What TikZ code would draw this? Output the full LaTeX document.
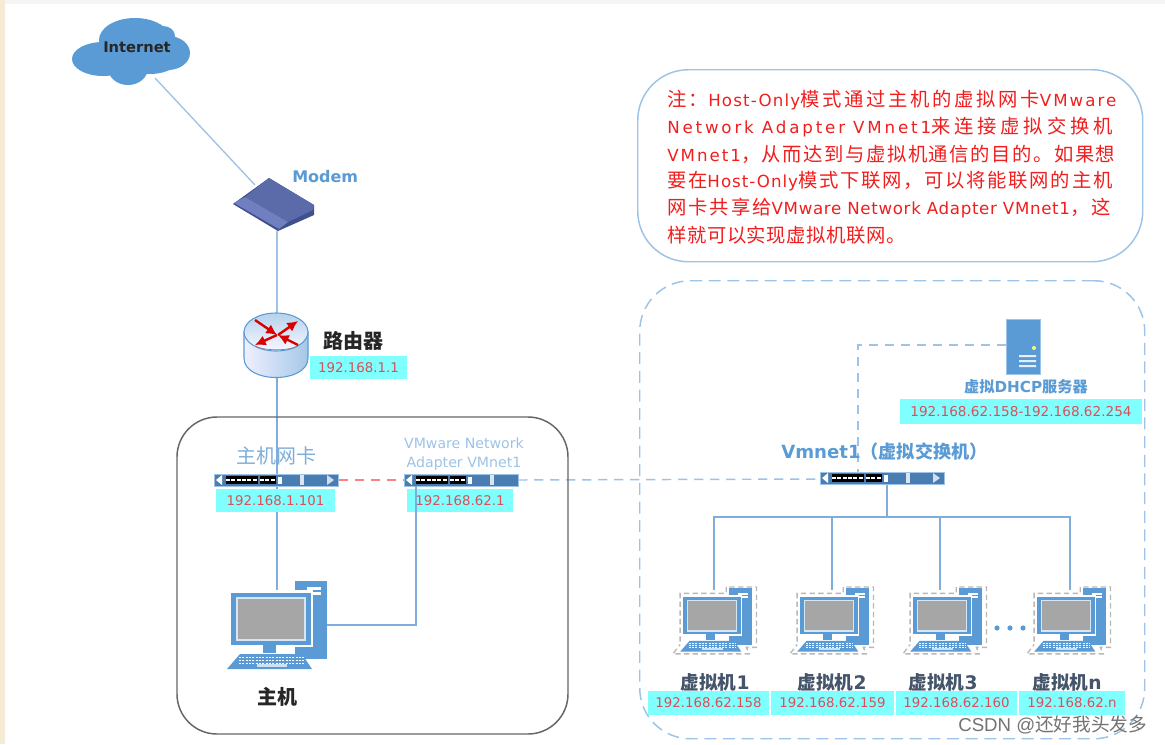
\documentclass[tikz,border=0pt]{standalone}
\usepackage{fontspec}
\setmainfont{DejaVu Sans}
\newfontfamily\cjk{Noto Sans CJK SC}
\usetikzlibrary{backgrounds,arrows.meta}
\newcommand{\zh}[1]{{\cjk #1}}
\newcommand{\fsz}[1]{\fontsize{#1}{#1}\selectfont}
\newcommand{\zs}[2]{{\fsz{14.5}\cjk\addfontfeature{LetterSpace=#1}#2}}
\newcommand{\ltr}[2]{{\addfontfeature{LetterSpace=#1}#2}}
\definecolor{wire}{HTML}{9DC3E6}
\definecolor{wired}{HTML}{7FAEDC}
\definecolor{dev}{HTML}{5B9BD5}
\definecolor{barc}{HTML}{4A7EB2}
\definecolor{cy}{HTML}{80FFFF}
\definecolor{ipred}{HTML}{D9505A}
\definecolor{notered}{HTML}{F01E1E}
\definecolor{vmtxt}{HTML}{44546A}
\definecolor{mtop}{HTML}{5B6AA8}
\definecolor{mfront}{HTML}{6F7FBF}
\definecolor{mdark}{HTML}{414F8C}
\definecolor{strip}{HTML}{F5EBD5}
\tikzset{
  link/.style={draw=wired,line width=1pt},
  lightlink/.style={draw=wire,line width=1pt},
  dlink/.style={draw=wire,line width=1.1pt,dash pattern=on 7pt off 5pt},
  ip/.style={fill=cy,text=ipred,inner sep=0pt,font=\fsz{10}},
  bar/.style={fill=barc,draw=wire,line width=.4pt,inner sep=0pt,minimum height=9pt},
  pcname/.style={text=vmtxt,font=\fsz{14}\bfseries,inner sep=0pt},
  blue/.style={text=dev,inner sep=0pt},
  noteline/.style={anchor=west,text=notered,inner sep=0pt,font=\fsz{12.5}},
  pc/.pic={
    \fill[dev] (64,-12) rectangle (96,66);
    \fill[white] (76,-6) rectangle (90,-3);
    \fill[white] (76,-1) rectangle (90,2);
    \fill[white] (-2,-3) rectangle (82,54);
    \fill[dev] (0,0) rectangle (80,52);
    \fill[white!75!dev] (5,4) rectangle (75,48);
    \fill[black!35] (7,6) rectangle (73,46);
    \fill[dev] (32,52) rectangle (45,60);
    \fill[dev] (-4,76) -- (81,76) -- (71,61) -- (9,61) -- cycle;
    \foreach \r in {64,67,70}{\draw[white,line width=.5pt,dash pattern=on 1.5pt off 1pt] (8,\r) -- (73,\r);}
    \fill[white!70!dev] (26,71) rectangle (56,74);
  },
  dashbox/.pic={
    \draw[black!28,line width=1pt,dash pattern=on 4pt off 2.5pt]
      (-4,62) -- (-4,-5) -- (60,-5) -- (60,-14) -- (102,-14) -- (102,70) -- (88,70) -- (92,79) -- (-14,79) -- (-4,66);
  },
  barpic/.pic={
    \fill[white] (2,6) -- (8,1) -- (8,11) -- cycle;
    \fill[black] (12,2) rectangle (44,10);
    \fill[black] (46,2) rectangle (62,10);
    \draw[white,line width=.9pt,dash pattern=on 3pt off 1pt] (12,6) -- (44,6);
    \draw[white,line width=.9pt,dash pattern=on 3pt off 1pt] (46,6) -- (62,6);
    \fill[white] (64,3) rectangle (68,10);
    \fill[white!80!barc] (86,1) rectangle (90,11);
  },
  endtri/.pic={\fill[white!75!barc] (0,1) -- (0,11) -- (7,6) -- cycle;},
}
\begin{document}
\begin{tikzpicture}[x=.75pt,y=-.75pt]
\useasboundingbox (0,0) rectangle (1165,744);
\begin{pgfonlayer}{background}
\fill[white] (0,0) rectangle (1165,744);
\fill[black!4] (0,0) rectangle (1165,4);
\fill[strip] (0,0) rectangle (5,744);
\end{pgfonlayer}

% enclosures
\draw[black!60,line width=1.1pt,rounded corners=30pt] (177,417) rectangle (568,734);
\node[draw=wire,line width=1.1pt,rounded corners=38pt,minimum width=378.75pt,minimum height=144pt,anchor=north west,inner sep=0pt] (note) at (637,69) {};
\node[draw=wire,line width=1.1pt,rounded corners=38pt,dash pattern=on 9pt off 5pt,minimum width=378.75pt,minimum height=343.5pt,anchor=north west,inner sep=0pt] (vmarea) at (639,280) {};

% note text
\node[noteline] (n1) at (667,100) {\zs{12}{注：}\ltr{7}{Host-Only}\zs{14}{模式通过主机的虚拟网卡}\ltr{12}{VMware}};
\node[noteline] (n2) at (667,127) {\ltr{17}{Network Adapter VMnet1}\zs{20}{来连接虚拟交换机}};
\node[noteline] (n3) at (667,154) {\ltr{12}{VMnet1}\zs{8}{，从而达到与虚拟机通信的目的。如果想}};
\node[noteline] (n4) at (667,181) {\zs{8}{要在}\ltr{6}{Host-Only}\zs{9}{模式下联网，可以将能联网的主机}};
\node[noteline] (n5) at (667,208) {\zs{10}{网卡共享给}\ltr{4}{VMware Network Adapter VMnet1}\zs{10}{，这}};
\node[noteline] (n6) at (667,235) {\zs{3}{样就可以实现虚拟机联网。}};

% cloud
\fill[dev] (103,59) ellipse (31 and 17) (135,40) ellipse (36 and 22) (163,36) ellipse (12 and 10)
  (168,53) ellipse (22 and 17) (128,68) ellipse (20 and 17) (150,52) ellipse (34 and 22);
\node[inner sep=0pt,font=\fsz{11}\bfseries,text=black!85] (net) at (137,47) {Internet};
\coordinate (cloudfoot) at (155,78);

% modem
\fill[mdark] (233,204) -- (278,231) -- (314,215) -- (314,205) -- (269,178) -- cycle;
\fill[mtop] (269,178) -- (314,205) -- (313,210) -- (288,222) -- (245,197) -- cycle;
\fill[mfront] (245,197) -- (288,222) -- (279,229) -- (234,203) -- cycle;
\coordinate (modemtop) at (255,185);
\coordinate (modembot) at (277,231);
\node[blue,font=\fsz{12}\bfseries,anchor=west] (modemlbl) at (292,177) {Modem};

% router
\coordinate (routertop) at (277,313);
\coordinate (routerbot) at (277,377);
\shade[left color=blue!6!white,right color=dev!55!white,draw=dev,line width=.8pt]
  (244,332) -- (244,358) .. controls (244,384) and (308,384) .. (308,358) -- (308,332) -- cycle;
\shade[top color=dev!45!white,bottom color=blue!3!white,draw=dev,line width=.8pt] (276,332) ellipse (32 and 19);
\draw[black!50,line width=.5pt] (255,346) .. controls (265,351) and (288,351) .. (298,346);
\begin{scope}[red!85!black,line width=1.8pt,-{Latex[length=8pt,width=8pt]}]
\draw (255,320) -- (277,335);
\draw (278,335) -- (298,321);
\draw (277,335) -- (255,345);
\draw (298,345) -- (278,335);
\end{scope}
\node[inner sep=0pt,font=\fsz{15}\cjk\bfseries,text=black!85] (rlbl) at (353,341) {路由器};
\node[ip,minimum width=72.75pt,minimum height=17.25pt] (rip) at (358.5,367.5) {192.168.1.1};

% NICs
\node[bar,minimum width=93pt,anchor=north west] (nic) at (214,474) {};
\pic at (214,474) {barpic};
\pic at (327,474) {endtri};
\node[bar,minimum width=85.5pt,anchor=north west] (vnic) at (404,474) {};
\pic at (404,474) {barpic};
\node[text=wired,inner sep=0pt,font=\fsz{15}\cjk] (niclbl) at (276,456) {主机网卡};
\node[text=wire,inner sep=0pt,font=\fsz{10.6}] (vl1) at (464,443) {VMware Network};
\node[text=wire,inner sep=0pt,font=\fsz{10.6}] (vl2) at (464,464) {Adapter VMnet1};
\node[ip,minimum width=89.25pt,minimum height=17.25pt] (nicip) at (275.5,500.5) {192.168.1.101};
\node[ip,minimum width=79.5pt,minimum height=17.25pt] (vnicip) at (460,500.5) {192.168.62.1};

% host
\pic at (231,593) {pc};
\coordinate (hostr) at (327,625);
\coordinate (hostt) at (277,593);
\coordinate (nicin) at (277,480);
\coordinate (nicout) at (277,486);
\coordinate (vbend) at (416,625);
\coordinate (vup) at (416,486);
\node[inner sep=0pt,font=\fsz{15}\cjk\bfseries,text=black!85] (hostlbl) at (277,697) {主机};

% server
\node[fill=dev,draw=wire,line width=.4pt,inner sep=0pt,minimum width=25.5pt,minimum height=41.25pt,anchor=north west] (srv) at (1006,319) {};
\fill[yellow!50!white] (1034,348) circle (2);
\fill[white!85!dev] (1019,355) rectangle (1036,357) (1019,360) rectangle (1036,362) (1019,365) rectangle (1036,367);
\node[inner sep=0pt,text=dev,font=\fsz{11.4}\bfseries] (srvlbl) at (1026,387) {\zh{虚拟}DHCP\zh{服务器}};
\node[ip,minimum width=181.5pt,minimum height=18.75pt] (srvip) at (1021,411.5) {\fsz{10.2}192.168.62.158-192.168.62.254};

% switch
\node[bar,minimum width=93pt,anchor=north west] (sw) at (820,472) {};
\pic at (820,472) {barpic};
\pic at (933,472) {endtri};
\node[anchor=west,inner sep=0pt,text=dev,font=\fsz{13.6}\bfseries] (swlbl) at (781,452) {Vmnet1\zh{（虚拟交换机）}};
\coordinate (swb) at (887,485);
\coordinate (bus) at (887,517);
\coordinate (bl) at (714,517);
\coordinate (br) at (1070,517);
\coordinate (b2) at (832,517);
\coordinate (b3) at (940,517);
\coordinate (srvw) at (1006,345);
\coordinate (srvc) at (858,345);
\coordinate (swt) at (858,472);
\coordinate (swl) at (820,479);
\coordinate (vnicr) at (518,480);

% VMs
\foreach \x in {683,800,913,1037}{
  \begin{scope}[shift={(\x,597)},scale=.72]
    \pic[transform shape] {pc};
    \pic[transform shape] {dashbox};
  \end{scope}
}
\coordinate (ta) at (714,590);
\coordinate (tb) at (832,590);
\coordinate (tc) at (940,590);
\coordinate (td) at (1070,590);
\fill[dev] (997,628) circle (2.6) (1010,628) circle (2.6) (1023,628) circle (2.6);
\node[pcname] (l1) at (715,682) {\zh{虚拟机}1};
\node[pcname] (l2) at (832,682) {\zh{虚拟机}2};
\node[pcname] (l3) at (943,682) {\zh{虚拟机}3};
\node[pcname] (l4) at (1067,682) {\zh{虚拟机}n};
\node[ip,minimum width=90.75pt,minimum height=18pt] (i1) at (708.5,703) {192.168.62.158};
\node[ip,minimum width=92.25pt,minimum height=18pt] (i2) at (832.5,703) {192.168.62.159};
\node[ip,minimum width=90.75pt,minimum height=18pt] (i3) at (956.5,703) {192.168.62.160};
\node[ip,minimum width=79.5pt,minimum height=18pt] (i4) at (1072,703) {192.168.62.n};

% connectors
\begin{pgfonlayer}{background}
\draw[lightlink] (cloudfoot) -- (modemtop);
\draw[lightlink] (modembot) -- (routertop);
\draw[link] (routerbot) -- (nicin);
\draw[link] (nicout) -- (hostt);
\draw[link] (swb) -- (bus);
\draw[link] (ta) -- (bl) -- (br) -- (td);
\draw[link] (b2) -- (tb);
\draw[link] (tc) -- (b3);
\draw[dlink] (srvw) -- (srvc) -- (swt);
\draw[dlink,draw=red!50,line width=1.4pt] (nic.east) -- (vnic.west);
\draw[dlink] (vnicr) -- (swl);
\end{pgfonlayer}
\draw[link] (hostr) -- (vbend) -- (vup);

% watermark
\node[anchor=west,inner sep=0pt,text=black!55,font=\fsz{14}] (wm) at (958,725) {\fontspec{Liberation Sans}CSDN @\zh{还好我头发多}};
\end{tikzpicture}
\end{document}
